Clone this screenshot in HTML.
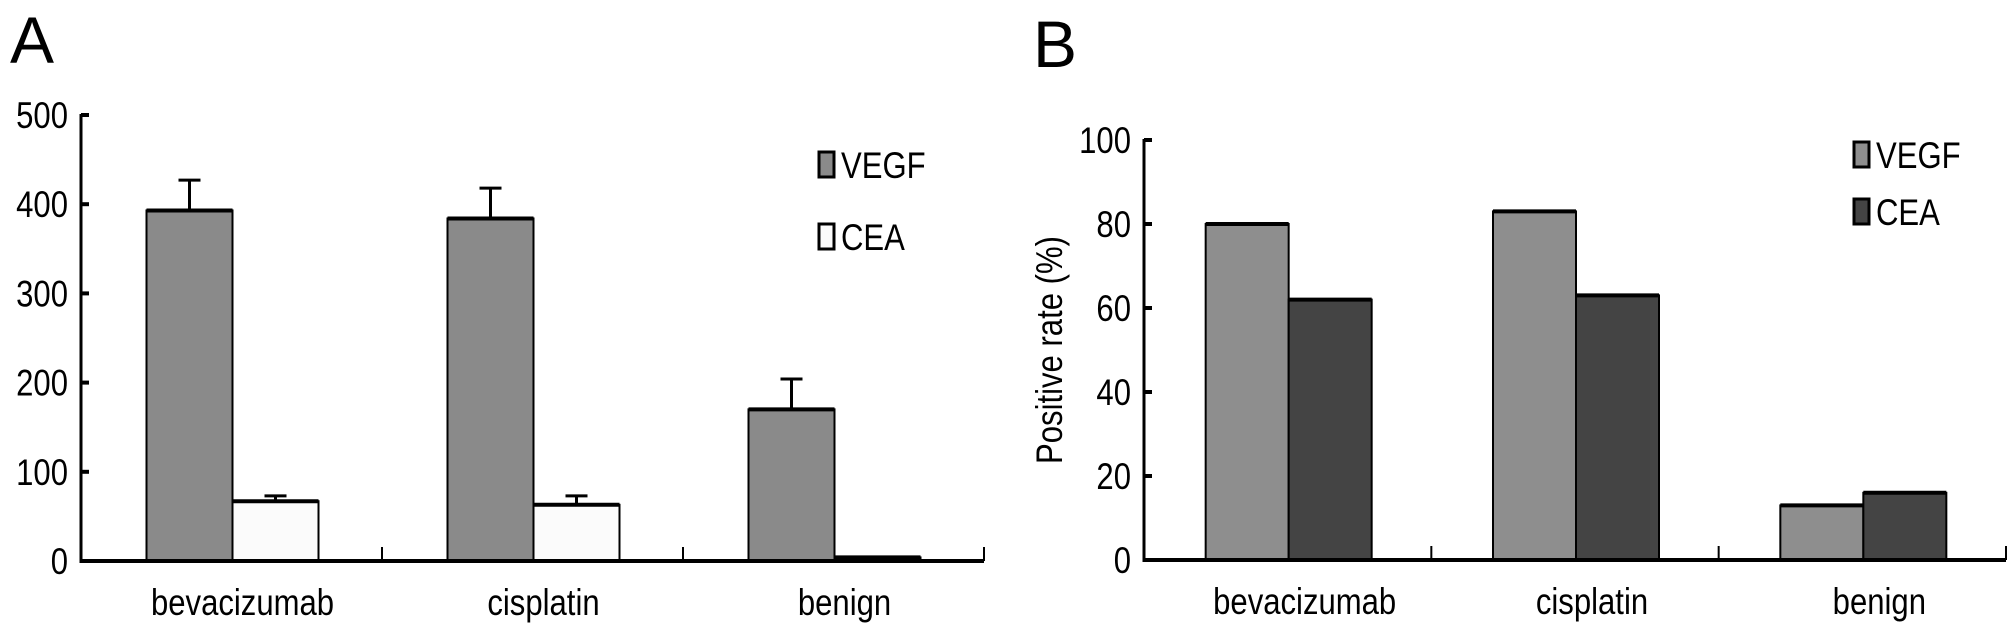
<!DOCTYPE html>
<html><head><meta charset="utf-8"><style>
html,body{margin:0;padding:0;background:#fff;}
svg{display:block;font-family:"Liberation Sans",Arial,sans-serif;}
</style></head><body>
<svg id="fig" width="2008" height="626" viewBox="0 0 2008 626" xmlns="http://www.w3.org/2000/svg">
<text x="10" y="63" font-size="66">A</text>
<text x="1033" y="67" font-size="66">B</text>
<g id="pa"></g>
<g id="pb"></g>
</svg>
<script>
const categories = ["bevacizumab", "cisplatin", "benign"];
const seriesNames = ["VEGF", "CEA"];
const aVegf = [393, 384, 170];
const aCea = [67, 63, 4];
const aVegfErr = [427, 418, 204];
const aCeaErr = [73, 73, 4];
const aTicks = [0, 100, 200, 300, 400, 500];
const bVegf = [80, 83, 13];
const bCea = [62, 63, 16];
const bTicks = [0, 20, 40, 60, 80, 100];
const NS = "http://www.w3.org/2000/svg";
const FS = 37, SX = 0.84;
function mk(parent, tag, attrs, text) {
  const e = document.createElementNS(NS, tag);
  for (const k in attrs) e.setAttribute(k, attrs[k]);
  if (text !== undefined) e.textContent = text;
  parent.appendChild(e);
  return e;
}
function txt(parent, x, y, s, anchor, rot) {
  const tr = rot ? `translate(${x},${y}) rotate(-90) scale(${SX},1)` : `translate(${x},${y}) scale(${SX},1)`;
  return mk(parent, "text", {x: 0, y: 0, "font-size": FS, "text-anchor": anchor, transform: tr}, s);
}
function panel(gid, cfg) {
  const g = document.getElementById(gid);
  const y = v => cfg.y0 - v / cfg.max * (cfg.y0 - cfg.yTop);
  const catW = (cfg.xEnd - cfg.x0) / categories.length;
  const xc = i => cfg.x0 + catW * (i + 0.5) + cfg.shift;
  [cfg.s1, cfg.s2].forEach((ser, si) => {
    ser.forEach((v, i) => {
      const bx = xc(i) - cfg.bw + si * cfg.bw;
      const r = mk(g, "rect", {x: bx, y: y(v), width: cfg.bw, height: cfg.y0 - y(v), fill: cfg.colors[si], stroke: "#000", "stroke-width": 2});
      
      
      mk(g, "line", {x1: bx, x2: bx + cfg.bw, y1: y(v), y2: y(v), stroke: "#000", "stroke-width": 4});
      if (cfg.err && cfg.err[si][i] > v + 1) {
        const cx = bx + cfg.bw / 2;
        const e = mk(g, "path", {d: `M${cx},${y(v)}V${y(cfg.err[si][i])}M${cx-11},${y(cfg.err[si][i])}H${cx+11}`, stroke: "#000", "stroke-width": 3, fill: "none"});
        
        
      }
    });
  });
  const ya = mk(g, "line", {x1: cfg.x0, x2: cfg.x0, y1: cfg.yTop - 1, y2: cfg.y0 + 2, stroke: "#000", "stroke-width": 3});
  
  
  const xa = mk(g, "line", {x1: cfg.x0, x2: cfg.xEnd, y1: cfg.y0, y2: cfg.y0, stroke: "#000", "stroke-width": 4});
  
  
  cfg.ticks.forEach(t => {
    mk(g, "line", {x1: cfg.x0, x2: cfg.x0 + 8, y1: y(t), y2: y(t), stroke: "#000", "stroke-width": 4});
    const tl = txt(g, cfg.x0 - 13, y(t) + 13, String(t), "end");
    
    
  });
  for (let i = 1; i <= categories.length; i++) {
    const tx = cfg.x0 + catW * i;
    mk(g, "line", {x1: tx, x2: tx, y1: cfg.y0, y2: cfg.y0 - 14, stroke: "#000", "stroke-width": 2});
  }
  categories.forEach((c, i) => {
    const t = txt(g, xc(i) + cfg.labShift, cfg.y0 + 54, c, "middle");
    
    
  });
  seriesNames.forEach((n, si) => {
    const ly = cfg.legY + si * cfg.legGap;
    const s = mk(g, "rect", {x: cfg.legX, y: ly, width: 15, height: 25, fill: cfg.colors[si], stroke: "#000", "stroke-width": 3});
    
    
    const t = txt(g, cfg.legX + 22, ly + 26, n, "start");
    
    
  });
  if (cfg.title) {
    const t = txt(g, cfg.titleX, (cfg.yTop + cfg.y0) / 2, cfg.title, "middle", true);
    
    
  }
}
panel("pa", {x0: 81, xEnd: 984, y0: 561, yTop: 115, max: 500, ticks: aTicks, s1: aVegf, s2: aCea,
  err: [aVegfErr, aCeaErr], bw: 86, shift: 1, labShift: 10, colors: ["#8a8a8a", "#fbfbfb"],
  legX: 819, legY: 152, legGap: 72});
panel("pb", {x0: 1144, xEnd: 2006, y0: 560, yTop: 140, max: 100, ticks: bTicks, s1: bVegf, s2: bCea,
  err: null, bw: 83, shift: 1, labShift: 16, colors: ["#8e8e8e", "#444444"],
  legX: 1854, legY: 142, legGap: 57, title: "Positive rate (%)", titleX: 1062});
</script>
</body></html>
